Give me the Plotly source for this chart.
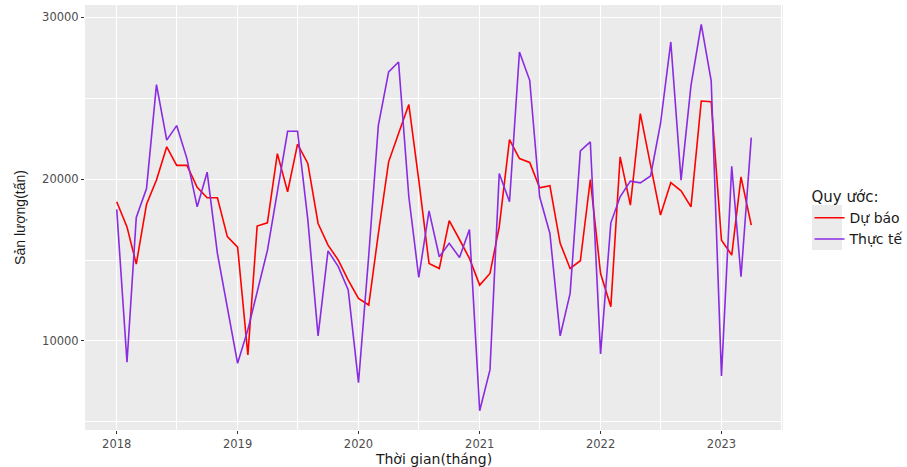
import pandas as pd
import plotly.graph_objects as go

# Monthly data, Jan 2018 .. Apr 2023
months = pd.date_range("2018-01-01", "2023-04-01", freq="MS")

du_bao = [  # red: forecast
    18600, 17050, 14750, 18450, 19950, 22000, 20850, 20850, 19500, 18850, 18850, 16450,
    15800, 9130, 17100, 17300, 21580, 19220, 22160, 20970, 17260, 15920, 15000, 13760,
    12630, 12220, 16640, 21070, 22820, 24610, 19940, 14790, 14480, 17430, 16270, 15100,
    13450, 14170, 17050, 22450, 21270, 21030, 19460, 19590, 16030, 14480, 14960, 19980,
    14170, 12120, 21380, 18390, 24050, 20970, 17780, 19790, 19280, 18290, 24830, 24790,
    16230, 15310, 20140, 17160,
]
thuc_te = [  # purple: actual
    18130, 8680, 17630, 19420, 25840, 22410, 23310, 21270, 18290, 20430, 15410, 12000,
    8620, 10700, 13100, 15600, 19220, 22960, 22960, 17500, 10310, 15570, 14590, 13150,
    7420, 15300, 23330, 26630, 27240, 18910, 13930, 18040, 15200, 16030, 15160, 16890,
    5690, 8210, 20350, 18600, 27860, 26110, 18910, 16640, 10310, 12940, 21750, 22300,
    9190, 17300, 18910, 19880, 19770, 20200, 23440, 28480, 19940, 25800, 29570, 26070,
    7840, 20800, 13970, 22570,
]
year_ticks = [2018, 2019, 2020, 2021, 2022, 2023]
y_ticks = [10000, 20000, 30000]

series_names = ["Dự báo", "Thực tế"]
series_colors = ["#FF0000", "#8A2BE2"]

fig = go.Figure()
for name, vals, col in zip(series_names, [du_bao, thuc_te], series_colors):
    fig.add_trace(go.Scatter(x=months, y=vals, mode="lines", name=name,
                             line=dict(color=col, width=1.6)))

# ggplot-like 5% expansion
x0, x1 = months.min(), months.max()
span = x1 - x0
xr = [x0 - span * 0.05, x1 + span * 0.05]
all_y = du_bao + thuc_te
ymin, ymax = min(all_y), max(all_y)
ypad = (ymax - ymin) * 0.05
yr = [ymin - ypad, ymax + ypad]

tick_font = dict(family="DejaVu Sans", size=11.5, color="#4D4D4D")

fig.update_layout(
    width=907, height=467,
    margin=dict(l=85, r=124, t=5, b=37, autoexpand=False),
    paper_bgcolor="white",
    plot_bgcolor="#EBEBEB",
    font=dict(family="DejaVu Sans", color="#1A1A1A"),
    showlegend=True,
    legend=dict(
        title=dict(text="Quy ước:", font=dict(family="DejaVu Sans", size=15, color="#1A1A1A")),
        font=dict(family="DejaVu Sans", size=14, color="#1A1A1A"),
        x=1.038, xanchor="left", y=0.582, yanchor="top",
        bgcolor="rgba(0,0,0,0)", itemwidth=30, tracegroupgap=2,
    ),
    xaxis=dict(
        type="date", range=xr,
        tickvals=[pd.Timestamp(f"{y}-01-01") for y in year_ticks],
        ticktext=[str(y) for y in year_ticks],
        tickfont=tick_font,
        ticks="outside", ticklen=3, tickcolor="#333333", tickwidth=1,
        showgrid=True, gridcolor="white", gridwidth=1.3,
        minor=dict(tickvals=[pd.Timestamp(f"{y}-07-01") for y in [2017] + year_ticks],
                   showgrid=True, gridcolor="white", gridwidth=0.6, ticks=""),
        zeroline=False, showline=False,
        title=dict(text="Thời gian(tháng)", standoff=9,
                   font=dict(family="DejaVu Sans", size=14, color="#1A1A1A")),
    ),
    yaxis=dict(
        range=yr,
        tickvals=y_ticks,
        ticktext=[str(v) for v in y_ticks],
        tickfont=tick_font,
        ticks="outside", ticklen=3, tickcolor="#333333", tickwidth=1,
        showgrid=True, gridcolor="white", gridwidth=1.3,
        minor=dict(tickvals=[5000, 15000, 25000], showgrid=True,
                   gridcolor="white", gridwidth=0.6, ticks=""),
        zeroline=False, showline=False,
        title=dict(text="Sản lượng(tấn)", standoff=13,
                   font=dict(family="Liberation Sans", size=14, color="#1A1A1A")),
    ),
    shapes=[dict(type="rect", xref="paper", yref="paper",
                 x0=(812 - 85) / 698, x1=(842 - 85) / 698,
                 y0=(430 - 250) / 425, y1=(430 - 205) / 425,
                 fillcolor="#EBEBEB", line=dict(width=0), layer="below")],
)

fig.write_html("out.html")
